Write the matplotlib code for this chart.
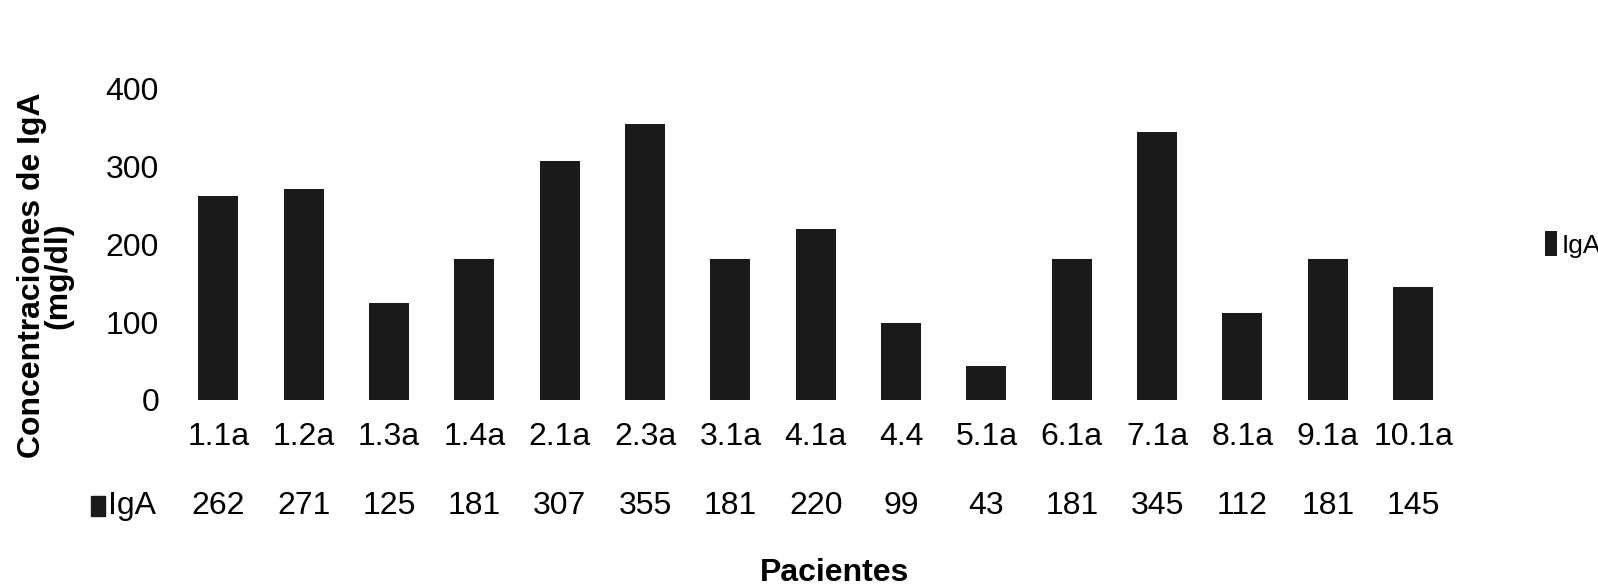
import matplotlib
matplotlib.use('Agg')
from matplotlib import pyplot as plt
from matplotlib.patches import Rectangle
from matplotlib.transforms import blended_transform_factory

pacientes = ['1.1a', '1.2a', '1.3a', '1.4a', '2.1a', '2.3a', '3.1a', '4.1a',
             '4.4', '5.1a', '6.1a', '7.1a', '8.1a', '9.1a', '10.1a']
iga = [262, 271, 125, 181, 307, 355, 181, 220, 99, 43, 181, 345, 112, 181, 145]
yticks = [0, 100, 200, 300, 400]

bar_color = '#1a1a1a'
plt.rcParams['font.family'] = ['Liberation Sans', 'DejaVu Sans']

fig = plt.figure(figsize=(15.98, 5.88), dpi=100)
ax = fig.add_axes([0.110, 0.320, 0.801, 0.529])

x = list(range(len(pacientes)))
ax.bar(x, iga, width=0.47, color=bar_color, label='IgA')
ax.set_xlim(-0.5, len(pacientes) - 0.5)
ax.set_ylim(0, 400)

for s in ax.spines.values():
    s.set_visible(False)
ax.set_yticks(yticks)
ax.set_yticklabels([str(t) for t in yticks], fontsize=23)
ax.tick_params(axis='y', length=0, pad=12)
ax.set_xticks(x)
ax.set_xticklabels(pacientes, fontsize=23)
ax.tick_params(axis='x', length=0, pad=16)

# data table row under the category labels
trans = blended_transform_factory(ax.transData, ax.transAxes)
for xi, v in zip(x, iga):
    ax.text(xi, -0.34, str(v), transform=trans, ha='center', va='center', fontsize=23)
ax.add_patch(Rectangle((-1.49, -0.375), 0.16, 0.065, transform=trans,
                       color=bar_color, clip_on=False))
ax.text(-1.29, -0.34, 'IgA', transform=trans, ha='left', va='center', fontsize=23)

ax.set_ylabel('Concentraciones de IgA\n(mg/dl)', fontsize=23, fontweight='bold',
              linespacing=0.85)
ax.yaxis.set_label_coords(-0.08, 0.4)
fig.text(0.522, 0.0, 'Pacientes', ha='center', va='bottom', fontsize=23,
         fontweight='bold')

ax.legend(loc='center left', bbox_to_anchor=(1.07, 0.5), frameon=False,
          fontsize=19, handlelength=0.45, handleheight=1.1, handletextpad=0.15,
          borderpad=0, borderaxespad=0)

plt.savefig('out.png', dpi=100)
plt.close()
